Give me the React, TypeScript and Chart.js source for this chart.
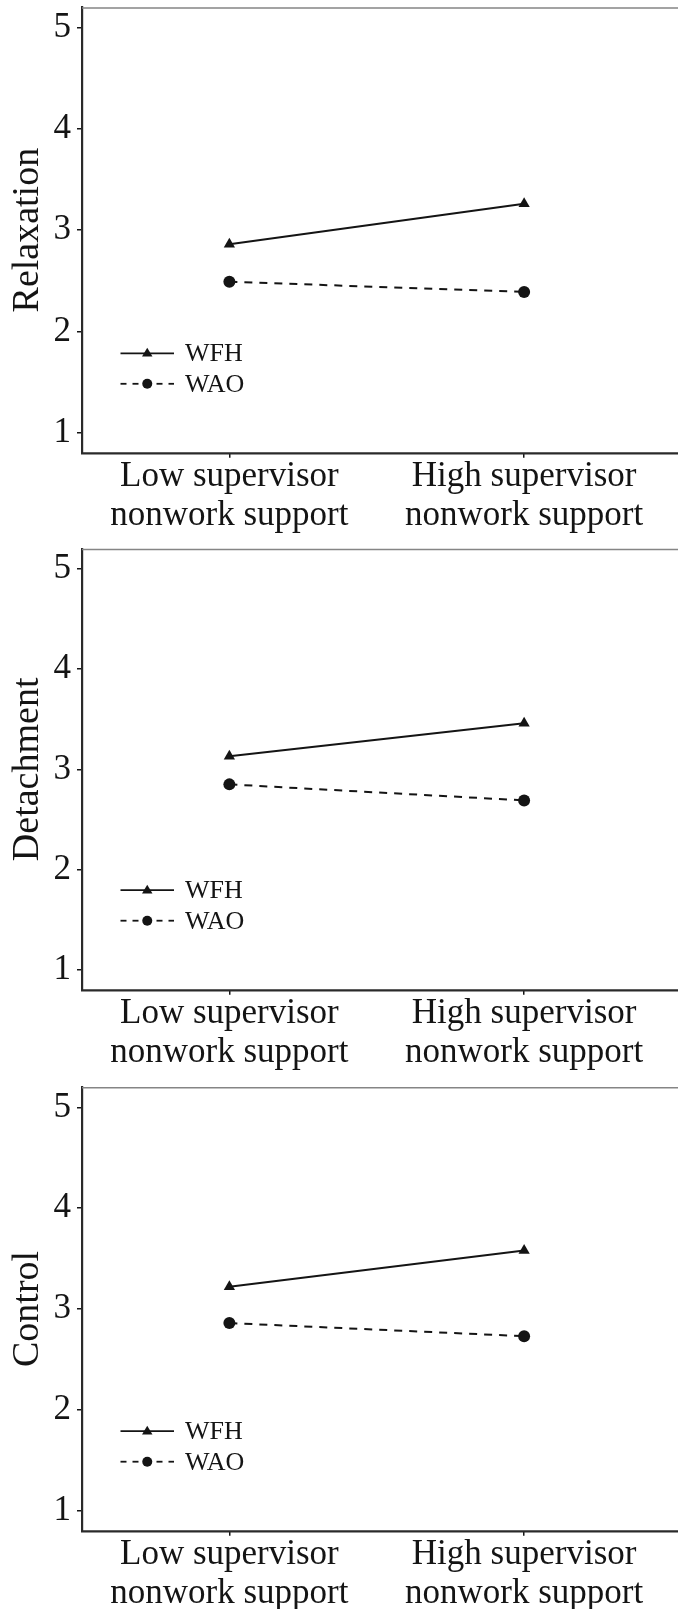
import React, { useEffect, useRef } from "react";
import { Chart, registerables } from "chart.js";

Chart.register(...registerables);

// ---- data ----
const categories: string[][] = [
  ["Low supervisor", "nonwork support"],
  ["High supervisor", "nonwork support"],
];
const seriesNames = ["WFH", "WAO"];
const yTicks = [1, 2, 3, 4, 5];
const panelTitles = ["Relaxation", "Detachment", "Control"];

const relaxationWFH = [2.86, 3.26];
const relaxationWAO = [2.49, 2.39];
const detachmentWFH = [3.13, 3.46];
const detachmentWAO = [2.85, 2.69];
const controlWFH = [3.22, 3.58];
const controlWAO = [2.86, 2.73];

const panelData = [
  [relaxationWFH, relaxationWAO],
  [detachmentWFH, detachmentWAO],
  [controlWFH, controlWAO],
];

// ---- layout ----
const W = 678;
const panels = [
  { top: 0, height: 540, padTop: 7.5, areaBottom: 452.8 },
  { top: 540, height: 540, padTop: 9, areaBottom: 449.7 },
  { top: 1080, height: 529, padTop: 7.2, areaBottom: 450.7 },
];
const SERIF = '"Liberation Serif", "Times New Roman", serif';
const INK = "#141414";

const decorPlugin = {
  id: "decor",
  afterDatasetsDraw(chart: any) {
    const { ctx, chartArea } = chart;
    ctx.save();
    // top frame line
    ctx.strokeStyle = "#858585";
    ctx.lineWidth = 1.5;
    ctx.setLineDash([]);
    ctx.beginPath();
    ctx.moveTo(chartArea.left, chartArea.top + 0.5);
    ctx.lineTo(chart.width, chartArea.top + 0.5);
    ctx.stroke();
    // bottom axis line across the full width
    ctx.strokeStyle = "#2a2a2a";
    ctx.lineWidth = 2.2;
    ctx.beginPath();
    ctx.moveTo(chartArea.left - 1, chartArea.bottom + 0.6);
    ctx.lineTo(chart.width, chartArea.bottom + 0.6);
    ctx.stroke();

    // legend
    const x0 = chartArea.left + 38.5;
    const x1 = chartArea.left + 92;
    const xm = (x0 + x1) / 2;
    const xt = chartArea.left + 103;
    const rows = [99.5, 69];
    chart.data.datasets.forEach((ds: any, i: number) => {
      const y = chartArea.bottom - rows[i];
      ctx.strokeStyle = INK;
      ctx.lineWidth = 1.8;
      ctx.setLineDash(i === 1 ? [6, 6] : []);
      ctx.beginPath();
      ctx.moveTo(x0, y);
      ctx.lineTo(x1, y);
      ctx.stroke();
      ctx.setLineDash([]);
      ctx.fillStyle = INK;
      ctx.beginPath();
      if (ds.pointStyle === "triangle") {
        const r = 5.5;
        ctx.moveTo(xm, y - r);
        ctx.lineTo(xm + r * 0.95, y + r * 0.6);
        ctx.lineTo(xm - r * 0.95, y + r * 0.6);
        ctx.closePath();
      } else {
        ctx.arc(xm, y, 5, 0, Math.PI * 2);
      }
      ctx.fill();
      ctx.font = `26px ${SERIF}`;
      ctx.textBaseline = "middle";
      ctx.textAlign = "left";
      ctx.fillText(ds.label, xt, y + 1);
    });
    ctx.restore();
  },
};

function Panel({ index }: { index: number }) {
  const ref = useRef<HTMLCanvasElement | null>(null);
  const p = panels[index];
  useEffect(() => {
    if (!ref.current) return;
    const [wfh, wao] = panelData[index];
    const chart = new Chart(ref.current, {
      type: "line",
      data: {
        labels: categories as any,
        datasets: [
          {
            label: seriesNames[0],
            data: wfh,
            borderColor: INK,
            backgroundColor: INK,
            borderWidth: 2,
            pointStyle: "triangle",
            pointRadius: 6.5,
            pointBorderWidth: 0,
            pointBackgroundColor: INK,
            fill: false,
            tension: 0,
          },
          {
            label: seriesNames[1],
            data: wao,
            borderColor: INK,
            backgroundColor: INK,
            borderWidth: 2,
            borderDash: [8, 7],
            pointStyle: "circle",
            pointRadius: 6,
            pointBorderWidth: 0,
            pointBackgroundColor: INK,
            fill: false,
            tension: 0,
          },
        ],
      },
      options: {
        animation: false,
        responsive: false,
        maintainAspectRatio: false,
        devicePixelRatio: 1,
        layout: { padding: { top: p.padTop, left: 0, right: 0, bottom: 0 } },
        plugins: {
          legend: { display: false },
          tooltip: { enabled: false },
        },
        scales: {
          x: {
            type: "category",
            offset: true,
            grid: {
              display: true,
              offset: false,
              drawOnChartArea: false,
              drawTicks: true,
              tickLength: 5,
              color: (c: any) => (c.index !== undefined && c.index < categories.length ? INK : "rgba(0,0,0,0)"),
              lineWidth: 1.5,
            },
            border: { display: false },
            ticks: {
              color: INK,
              font: { family: SERIF, size: 35, lineHeight: 1.1 },
              padding: 0,
              maxRotation: 0,
              autoSkip: false,
            },
            afterFit: (s: any) => {
              s.height = p.height - p.areaBottom;
              s.paddingLeft = 0;
              s.paddingRight = 0;
              s.paddingTop = 0;
              s.paddingBottom = 0;
            },
          },
          y: {
            type: "linear",
            min: 0.8,
            max: 5.2,
            afterBuildTicks: (s: any) => {
              s.ticks = yTicks.map((v) => ({ value: v }));
            },
            grid: {
              display: true,
              drawOnChartArea: false,
              drawTicks: true,
              tickLength: 5,
              color: INK,
              lineWidth: 1.5,
            },
            border: { display: true, color: "#2a2a2a", width: 2.2 },
            ticks: {
              color: INK,
              font: { family: SERIF, size: 35 },
              padding: 6,
              callback: (v: any) => String(v),
            },
            title: {
              display: true,
              text: panelTitles[index],
              color: INK,
              font: { family: SERIF, size: 38, lineHeight: 1.2 },
              padding: { top: 5, bottom: 0 },
            },
            afterFit: (s: any) => {
              s.width = 82;
              s.paddingTop = 0;
              s.paddingBottom = 0;
              s.paddingLeft = 0;
              s.paddingRight = 0;
            },
          },
        },
      },
      plugins: [decorPlugin],
    });
    return () => chart.destroy();
  }, [index]);
  return (
    <canvas
      ref={ref}
      width={W}
      height={p.height}
      style={{ position: "absolute", left: 0, top: p.top, width: W, height: p.height, display: "block" }}
    />
  );
}

export default function App() {
  return (
    <div
      style={{
        position: "absolute",
        left: 0,
        top: 0,
        width: W,
        height: 1609,
        overflow: "hidden",
        background: "#fff",
      }}
    >
      {panels.map((_, i) => (
        <Panel key={i} index={i} />
      ))}
    </div>
  );
}
